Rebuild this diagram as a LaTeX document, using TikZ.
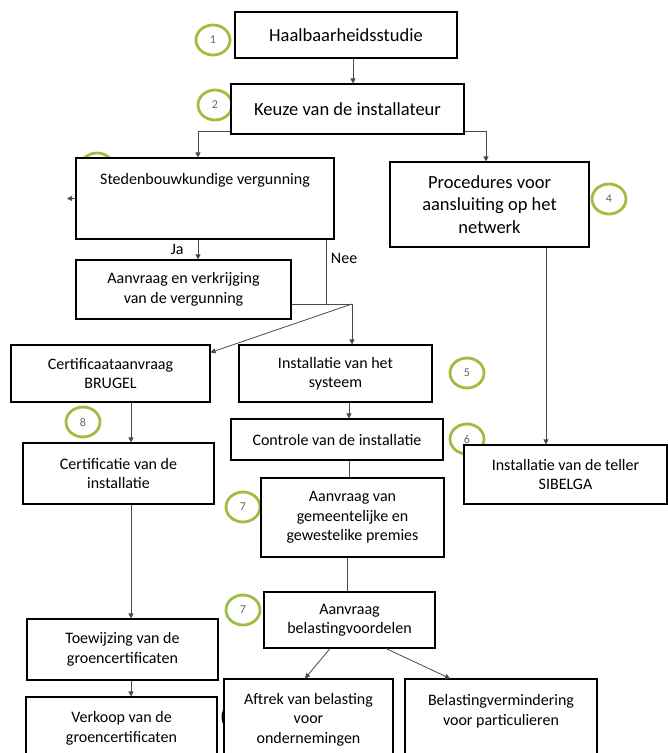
\documentclass[tikz,border=0pt]{standalone}
\usepackage{fontspec}
\setmainfont{Carlito}
\usetikzlibrary{positioning, arrows.meta, shapes.geometric}
\definecolor{ringgreen}{HTML}{9DBE3F}
\definecolor{linegray}{HTML}{4A4A4A}

\begin{document}
\begin{tikzpicture}[
    x=1pt, y=-1pt,
    stage/.style={draw, rectangle, fill=white, line width=1.1pt, inner sep=0pt, align=center, font=\fontsize{16}{19.5}\selectfont},
    bigstage/.style={stage, font=\fontsize{18.5}{22.5}\selectfont},
    marker/.style={ellipse, draw=ringgreen, line width=2.8pt, minimum width=34, minimum height=30, inner sep=0pt, text=black!60, font=\fontsize{12}{14}\selectfont},
    tag/.style={inner sep=0pt, text=black, font=\fontsize{16}{19.5}\selectfont},
    arrow/.style={-{Triangle[length=5pt, width=5pt]}, linegray, line width=0.8pt},
    link/.style={linegray, line width=0.8pt}
]

    \useasboundingbox (0,0) rectangle (668,753);
    \clip (0,0) rectangle (668,753);

    \node[marker] (m1) at (213,40) {1};
    \node[marker] (m2) at (215,105) {2};
    \node[marker] (m3) at (97,168) {3};
    \node[marker] (m4) at (609,199) {4};
    \node[marker] (m5) at (467,373) {5};
    \node[marker] (m6) at (467,439) {6};
    \node[marker] (m7) at (243,507) {7};
    \node[marker] (m7b) at (243,610) {7};
    \node[marker] (m8) at (83,422) {8};
    \node[marker, draw=black, minimum width=34, minimum height=34] (m9) at (240,717) {};

    \node[bigstage, minimum width=222, minimum height=46] (haal) at (346,35) {Haalbaarheidsstudie};
    \node[bigstage, minimum width=233, minimum height=50] (keuze) at (347.5,109) {Keuze van de installateur};
    \node[stage, minimum width=258, minimum height=81] (stede) at (205,198.5) {Stedenbouwkundige vergunning\\ \mbox{}\\ \mbox{}};
    \node[bigstage, minimum width=199, minimum height=85] (proc) at (489.5,204.5) {Procedures voor\\aansluiting op het\\netwerk};
    \node[stage, minimum width=215, minimum height=59] (verg) at (183.5,289.5) {Aanvraag en verkrijging\\van de vergunning};
    \node[stage, minimum width=199, minimum height=57] (aanvraagcert) at (110.5,373.5) {Certificaataanvraag\\BRUGEL};
    \node[stage, minimum width=193, minimum height=57] (install) at (335.5,373.5) {Installatie van het\\systeem};
    \node[stage, minimum width=212, minimum height=41] (controle) at (337,439.5) {Controle van de installatie};
    \node[stage, minimum width=191, minimum height=61] (certif) at (118.5,473.5) {Certificatie van de\\installatie};
    \node[stage, minimum width=203, minimum height=59] (teller) at (565.5,474.5) {Installatie van de teller\\SIBELGA};
    \node[stage, minimum width=183, minimum height=79] (premies) at (352.5,517.5) {Aanvraag van\\gemeentelijke en\\gewestelike premies};
    \node[stage, minimum width=171, minimum height=56] (belasting) at (349.5,620) {Aanvraag\\belastingvoordelen};
    \node[stage, minimum width=191, minimum height=61] (toewijz) at (122.5,649.5) {Toewijzing van de\\groencertificaten};
    \node[stage, minimum width=191, minimum height=63] (verkoop) at (121.5,728.5) {Verkoop van de\\groencertificaten};
    \node[stage, minimum width=169, minimum height=81] (aftrek) at (308.5,719.5) {Aftrek van belasting\\voor\\ondernemingen};
    \node[stage, minimum width=192, minimum height=81] (vermind) at (501,719.5) {Belastingvermindering\\voor particulieren\\ \mbox{}};

    \coordinate (stub) at (67,198.5);
    \coordinate (split) at (352,304);

    \draw[arrow] ([xshift=7pt]haal.south) -- ([xshift=7pt]haal.south |- keuze.north);
    \draw[arrow] ([yshift=3pt]keuze.south west) -| ([xshift=-7pt]stede.north);
    \draw[arrow] ([yshift=3pt]keuze.south east) -| ([xshift=-3.5pt]proc.north);
    \draw[arrow] (stede.west) -- (stub);

    \draw[arrow] ([xshift=-7pt]stede.south) -- ([xshift=-7pt]stede.south |- verg.north) node[tag, midway, left=14pt] {Ja};
    \draw[link] ([xshift=-8pt]stede.south east) -- ([xshift=-8pt]stede.south east |- split) node[tag, pos=0.29, right=4pt] {Nee};
    \draw[link] ([yshift=-14.5pt]verg.east) -- (split);
    \draw[arrow] (split) -- ([yshift=-8pt]aanvraagcert.north east);
    \draw[arrow] (split) -- (split |- install.north);

    \draw[arrow] ([xshift=13.5pt]install.south) -- ([xshift=13.5pt]install.south |- controle.north);
    \draw[link] ([xshift=12pt]controle.south) -- ([xshift=12pt]controle.south |- premies.north);
    \draw[link] ([xshift=-5.5pt]premies.south) -- ([xshift=-5.5pt]premies.south |- belasting.north);
    \draw[arrow] ([xshift=-19.5pt]belasting.south) -- ([xshift=-3.5pt]aftrek.north);
    \draw[arrow] ([xshift=36.5pt]belasting.south) -- ([xshift=-51pt]vermind.north);

    \draw[arrow] ([xshift=20.5pt]aanvraagcert.south) -- ([xshift=20.5pt]aanvraagcert.south |- certif.north);
    \draw[arrow] ([xshift=56.5pt]proc.south) -- ([xshift=56.5pt]proc.south |- teller.north);
    \draw[arrow] ([xshift=12.5pt]certif.south) -- ([xshift=12.5pt]certif.south |- toewijz.north);
    \draw[arrow] ([xshift=8.5pt]toewijz.south) -- ([xshift=8.5pt]toewijz.south |- verkoop.north);

\end{tikzpicture}
\end{document}
